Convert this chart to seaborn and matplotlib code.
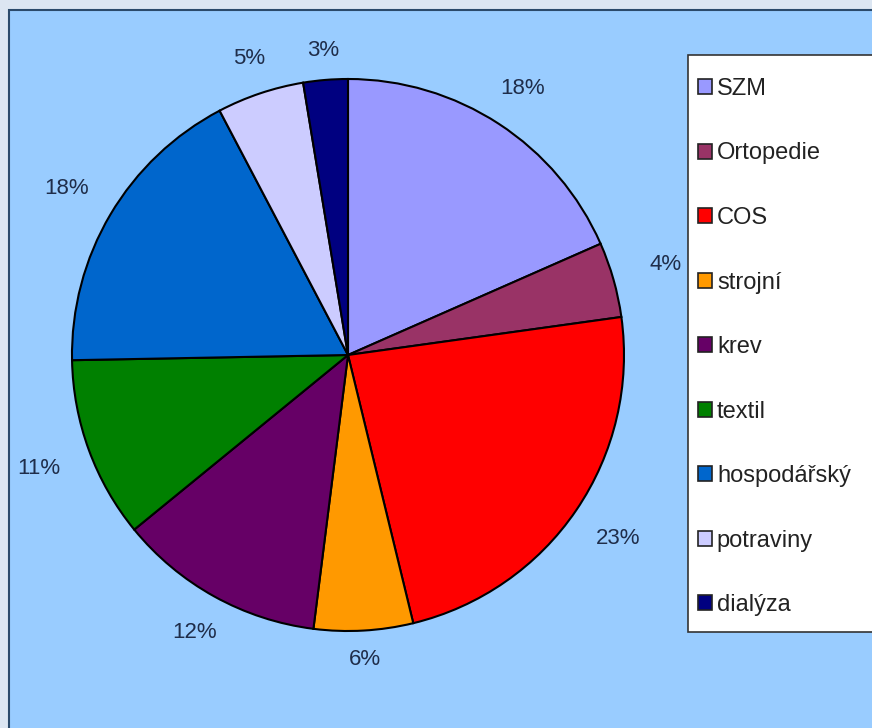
import numpy as np
import seaborn as sns
import matplotlib.pyplot as plt
from matplotlib.patches import Rectangle

# data (percent shares)
categories = ['SZM', 'Ortopedie', 'COS', 'strojní', 'krev', 'textil',
              'hospodářský', 'potraviny', 'dialýza']
shares = [18.4, 4.4, 23.4, 5.8, 12.1, 10.6, 17.6, 5.1, 2.6]
colors = ['#9999FF', '#993366', '#FF0000', '#FF9900', '#660066',
          '#008000', '#0066CC', '#CCCCFF', '#000080']

sns.set_theme(style="white")
plt.rcParams['font.family'] = ['Liberation Sans', 'DejaVu Sans']

fig = plt.figure(figsize=(8.72, 7.28), dpi=100)
fig.patch.set_facecolor('#DCE6F2')

# blue chart area with dark border
fig.patches.append(Rectangle((8.5 / 872, -0.01), 1.0, (728 - 10.5) / 728 + 0.01,
                             transform=fig.transFigure, facecolor='#99CCFF',
                             edgecolor='#2B4A6B', linewidth=1.5, zorder=-5))

# legend box (drawn separately so the padding can match)
fig.patches.append(Rectangle((688 / 872, (728 - 632) / 728), 0.3, (632 - 55) / 728,
                             transform=fig.transFigure, facecolor='white',
                             edgecolor='#333333', linewidth=1.2, zorder=-4))

ax = fig.add_axes([(348 - 276) / 872, (728 - 355 - 276) / 728, 552 / 872, 552 / 728])
ax.set_facecolor('none')

wedges, texts, autotexts = ax.pie(
    shares, colors=colors, startangle=90, counterclock=False,
    autopct='%1.0f%%', pctdistance=1.0,
    wedgeprops=dict(edgecolor='black', linewidth=1.5))

# labels sit outside the pie, a bit further out at the sides (wide text)
for t in autotexts:
    x, y = t.get_position()
    r = 1.10 + 0.10 * abs(x)
    t.set_position((x * r, y * r))
    t.set_fontsize(16)
    t.set_color('#1F2D4A')

ax.set_xlim(-1, 1)
ax.set_ylim(-1, 1)
ax.set_aspect('equal')
ax.axis('off')

leg = fig.legend(wedges, categories, loc='upper left',
                 bbox_to_anchor=(698 / 872, (728 - 78) / 728),
                 fontsize=17, labelspacing=1.8, handlelength=0.6,
                 handleheight=0.6, handletextpad=0.2, borderpad=0,
                 borderaxespad=0, frameon=False)
for h in leg.legend_handles:
    h.set_linewidth(1.2)
    h.set_edgecolor('#222222')
for t in leg.get_texts():
    t.set_color('#222222')

plt.savefig('out.png', dpi=100, facecolor=fig.get_facecolor())
